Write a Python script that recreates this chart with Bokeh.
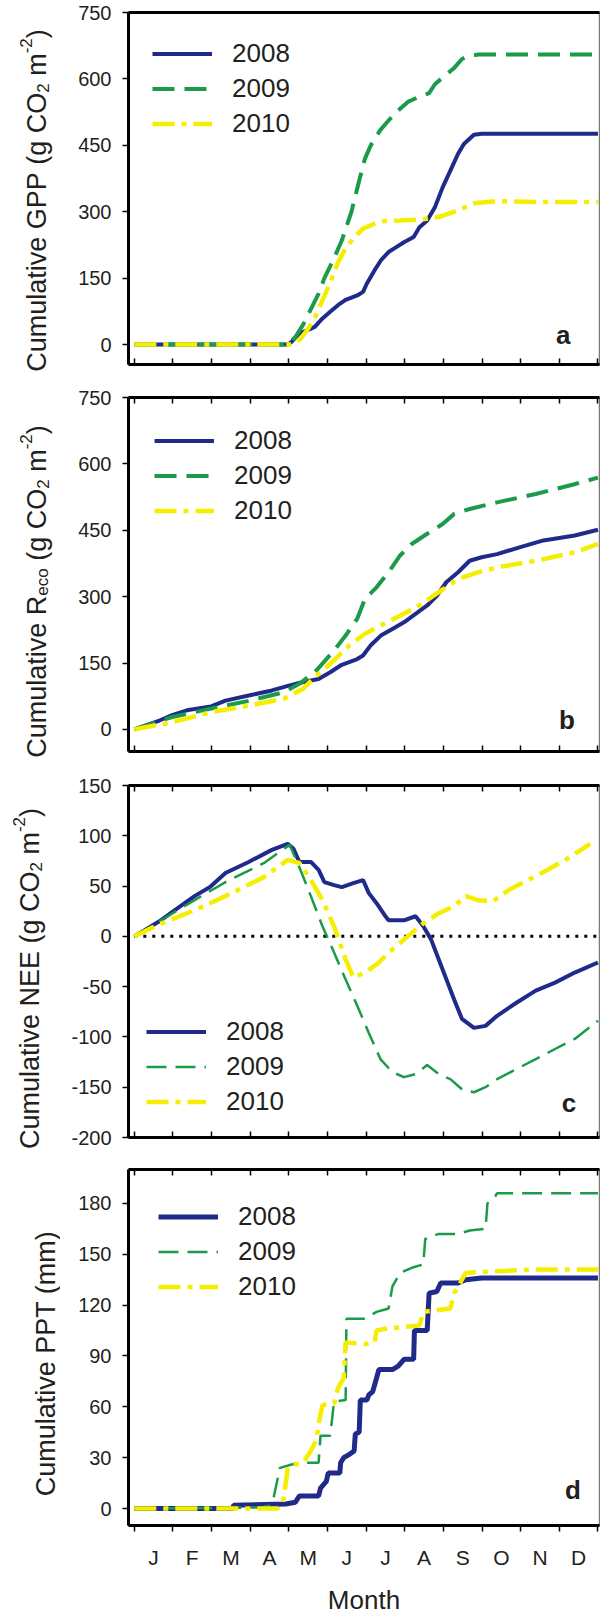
from bokeh.plotting import figure
from bokeh.models import Range1d, FixedTicker, LinearAxis, Legend, LegendItem, Label
from bokeh.layouts import column, row
from bokeh.embed import file_html
from bokeh.resources import INLINE
from bokeh.core.properties import value

# ---------------- data ----------------
month_labels = ["J", "F", "M", "A", "M", "J", "J", "A", "S", "O", "N", "D"]
month_edges = list(range(13))
month_mids = [i + 0.5 for i in range(12)]
year_labels = ["2008", "2009", "2010"]

gpp_ticks = [0, 150, 300, 450, 600, 750]
reco_ticks = [0, 150, 300, 450, 600, 750]
nee_ticks = [-200, -150, -100, -50, 0, 50, 100, 150]
ppt_ticks = [0, 30, 60, 90, 120, 150, 180]

gpp_2008_m = [0, 3.97, 4.07, 4.27, 4.47, 4.67, 4.87, 5.07, 5.27, 5.47, 5.77, 5.92, 6.02, 6.22, 6.38, 6.58, 6.78, 6.98, 7.23, 7.38, 7.58, 7.78, 7.98, 8.18, 8.38, 8.53, 8.79, 8.99, 12.0]
gpp_2008_v = [0, 0, 6, 25, 32, 40, 59, 74, 89, 101, 111, 119, 138, 168, 190, 209, 220, 231, 243, 265, 280, 310, 355, 393, 431, 453, 474, 476, 476]
gpp_2009_m = [0, 3.97, 4.17, 4.37, 4.57, 4.77, 4.92, 5.17, 5.37, 5.62, 5.82, 5.97, 6.12, 6.37, 6.57, 6.78, 7.08, 7.38, 7.63, 7.78, 7.98, 8.28, 8.48, 8.68, 8.9, 12.0]
gpp_2009_v = [0, 0, 17, 45, 80, 115, 150, 195, 235, 300, 370, 420, 450, 485, 505, 525, 548, 560, 568, 588, 603, 625, 645, 652, 655, 655]
gpp_2010_m = [0, 4.0, 4.07, 4.27, 4.47, 4.67, 4.87, 5.07, 5.27, 5.47, 5.72, 5.92, 6.22, 6.47, 6.88, 7.38, 7.88, 8.38, 8.79, 9.39, 10.39, 12.0]
gpp_2010_v = [0, 0, 2, 10, 32, 60, 100, 140, 185, 218, 245, 262, 273, 279, 280, 282, 288, 303, 319, 324, 322, 322]

reco_2008_m = [0, 0.65, 0.98, 1.36, 1.99, 2.36, 2.99, 3.56, 4.0, 4.37, 4.77, 5.07, 5.37, 5.77, 5.92, 6.12, 6.38, 6.68, 6.98, 7.28, 7.58, 7.83, 8.08, 8.38, 8.68, 8.99, 9.39, 9.99, 10.59, 11.4, 12.0]
reco_2008_v = [0, 20, 32, 43, 52, 65, 77, 88, 99, 107, 114, 129, 146, 159, 167, 190, 212, 227, 242, 261, 280, 302, 333, 355, 381, 389, 396, 412, 427, 438, 451]
reco_2009_m = [0, 0.98, 1.99, 2.99, 3.87, 4.27, 4.67, 5.17, 5.47, 5.77, 5.97, 6.27, 6.58, 6.88, 7.18, 7.58, 7.98, 8.28, 8.68, 9.39, 10.39, 11.39, 12.0]
reco_2009_v = [0, 28, 47, 65, 84, 103, 129, 178, 212, 250, 295, 321, 355, 393, 419, 442, 464, 487, 498, 513, 532, 554, 569]
reco_2010_m = [0, 0.98, 1.99, 2.99, 3.87, 4.37, 4.67, 5.07, 5.57, 5.97, 6.38, 6.88, 7.38, 7.88, 8.38, 8.89, 9.39, 10.39, 11.39, 12.0]
reco_2010_v = [0, 16, 39, 54, 69, 92, 118, 148, 190, 216, 235, 257, 280, 310, 340, 355, 366, 381, 400, 419]

nee_2008_m = [0, 0.65, 1.05, 1.56, 1.96, 2.36, 2.96, 3.56, 3.97, 4.12, 4.27, 4.57, 4.77, 4.92, 5.17, 5.37, 5.67, 5.92, 6.07, 6.27, 6.48, 6.58, 6.98, 7.28, 7.48, 7.68, 7.88, 8.08, 8.28, 8.48, 8.79, 9.09, 9.39, 9.89, 10.39, 10.89, 11.4, 12.0]
nee_2008_v = [0, 15, 26, 40, 49, 63, 74, 86, 92, 87, 74, 74, 66, 54, 51, 49, 53, 56, 43, 33, 21, 16, 16, 20, 10, -3, -23, -43, -63, -82, -91, -89, -79, -66, -54, -46, -36, -26]
nee_2009_m = [0, 0.65, 1.56, 2.36, 3.36, 4.02, 4.27, 4.57, 4.87, 5.17, 5.47, 5.77, 6.07, 6.37, 6.68, 6.98, 7.28, 7.58, 7.88, 8.18, 8.48, 8.79, 9.09, 9.39, 9.89, 10.39, 10.89, 11.4, 12.0]
nee_2009_v = [0, 15, 36, 54, 73, 91, 69, 40, 10, -16, -43, -69, -96, -122, -135, -140, -137, -128, -137, -142, -152, -155, -150, -142, -132, -122, -112, -102, -84]
nee_2010_m = [0, 0.65, 1.56, 2.36, 3.36, 3.97, 4.27, 4.57, 4.87, 5.17, 5.47, 5.67, 5.97, 6.27, 6.68, 7.08, 7.48, 7.88, 8.28, 8.58, 8.89, 9.29, 9.69, 10.19, 10.69, 11.2, 11.8]
nee_2010_v = [0, 12, 26, 40, 59, 76, 73, 56, 36, 10, -23, -41, -36, -28, -13, 0, 13, 23, 30, 40, 36, 35, 46, 56, 66, 77, 92]
nee_zero_m = [0, 12]
nee_zero_v = [0, 0]

ppt_2008_m = [0, 2.56, 2.57, 3.92, 4.17, 4.27, 4.77, 4.82, 4.97, 5.02, 5.32, 5.34, 5.42, 5.57, 5.69, 5.72, 5.82, 5.85, 6.02, 6.07, 6.17, 6.27, 6.33, 6.68, 6.83, 6.98, 7.23, 7.25, 7.58, 7.63, 7.83, 7.93, 8.38, 8.58, 8.99, 12.0]
ppt_2008_v = [0, 0, 2, 2.7, 3.7, 7.4, 7.4, 12, 16, 21, 21, 27, 30, 32, 34, 44, 45, 64, 64, 67, 69, 77, 82, 82, 84, 88, 88, 105, 105, 127, 128, 133, 133, 135, 136, 136]
ppt_2009_m = [0, 3.26, 3.51, 3.61, 3.77, 4.07, 4.27, 4.77, 4.82, 5.07, 5.17, 5.47, 5.49, 5.97, 6.27, 6.58, 6.68, 6.88, 7.18, 7.48, 7.53, 7.88, 8.38, 8.68, 9.09, 9.14, 9.29, 9.39, 12.0]
ppt_2009_v = [0, 0.6, 1.6, 7, 24, 26, 27, 27, 43, 43, 63, 64, 112, 112, 116, 118, 131, 139, 142, 144, 159, 162, 162, 164, 165, 180, 182, 186, 186]
ppt_2010_m = [0, 3.71, 3.87, 3.97, 4.17, 4.37, 4.57, 4.72, 4.77, 4.87, 5.17, 5.27, 5.42, 5.47, 5.97, 6.22, 6.27, 6.48, 7.38, 7.48, 8.18, 8.28, 8.48, 8.58, 9.39, 10.39, 12.0]
ppt_2010_v = [0, 0, 6, 24, 26, 27, 34, 41, 50, 61, 62, 71, 77, 98, 97, 98, 105, 106, 108, 116, 118, 127, 135, 139, 140, 141, 141]

# ---------------- style ----------------
FONT = "Liberation Sans"
TXT = "#231f20"
BLUE, GREEN, YELLOW = "#1f2a8a", "#1b9a4a", "#f6ee00"
X0, X1 = -0.15, 12.04
FW = 471
TW = 60            # width of the strip that holds the rotated y titles
LEFT = 128 - TW    # left border of each panel, beside that strip

CW = {' ': 278, '(': 333, ')': 333, '-': 333, '2': 556, 'C': 722, 'G': 778, 'P': 667,
      'O': 778, 'R': 722, 'N': 722, 'E': 667, 'T': 611, 'u': 556, 'm': 833, 'l': 222,
      'a': 556, 't': 278, 'i': 222, 'v': 500, 'e': 556, 'g': 556, 'c': 500, 'o': 556}


def tw(s, size):
    return sum(CW.get(ch, 556) for ch in s) / 1000.0 * size


def blank_axis(ticks, tin, tout):
    return LinearAxis(ticker=FixedTicker(ticks=ticks), axis_line_width=3, axis_line_color="black",
                      major_tick_in=tin, major_tick_out=tout, minor_tick_in=0, minor_tick_out=0,
                      major_tick_line_width=1.5, major_label_standoff=0,
                      major_label_overrides={e: "" for e in ticks}, major_label_text_font_size="1px")


def panel(y0, y1, fh, top, bottom, ticks, top_ticks, bottom_out=False):
    p = figure(frame_width=FW, frame_height=fh, x_range=Range1d(X0, X1), y_range=Range1d(y0, y1),
               x_axis_type=None, y_axis_type=None, output_backend="svg", toolbar_location=None,
               title=None, min_border_left=LEFT, min_border_right=1, min_border_top=top,
               min_border_bottom=bottom)
    p.outline_line_color = "#7a7a7a"
    p.outline_line_width = 1.5
    ya = LinearAxis(ticker=FixedTicker(ticks=ticks), axis_line_width=3, axis_line_color="black",
                    major_tick_out=6, major_tick_in=0, minor_tick_out=0, minor_tick_in=0,
                    major_tick_line_width=1.5, major_label_standoff=11,
                    major_label_overrides={t: str(t) for t in ticks if t < 0},
                    major_label_text_font=FONT, major_label_text_font_size="20px",
                    major_label_text_color=TXT)
    p.add_layout(ya, "left")
    p.add_layout(blank_axis(month_edges, 6 if top_ticks else 0, 0), "above")
    if bottom_out:
        p.add_layout(blank_axis(month_edges, 0, 6), "below")
    else:
        p.add_layout(blank_axis(month_edges, 6, 0), "below")
    return p


def title_strip(pieces, top, fh, bottom, base_px):
    h = top + fh + bottom
    t = figure(frame_width=TW, frame_height=h, x_range=Range1d(0, TW), y_range=Range1d(0, h),
               x_axis_type=None, y_axis_type=None, output_backend="svg", toolbar_location=None,
               title=None, min_border=0)
    t.outline_line_color = None
    main, small = 27, 17
    sizes = [main if k == "n" else small for _, k in pieces]
    total = sum(tw(s, z) for (s, k), z in zip(pieces, sizes))
    pos = bottom + fh / 2.0 - total / 2.0
    for (s, k), z in zip(pieces, sizes):
        shift = {"n": 0, "sub": 6, "sup": -11}[k]
        lead = len(s) - len(s.lstrip(" "))
        t.add_layout(Label(x=base_px - 8 + shift, y=pos + tw(" " * lead, z), text=s.strip(" "),
                           angle=90, angle_units="deg",
                           text_font=FONT, text_font_size="%dpx" % z, text_color=TXT,
                           text_align="left", text_baseline="alphabetic"))
        pos += tw(s, z)
    return t


def letter(p, x, y, t):
    p.add_layout(Label(x=x, y=y, text=t, text_font=FONT, text_font_size="26px",
                       text_font_style="bold", text_color=TXT,
                       text_align="center", text_baseline="middle"))


def legend(p, rs, loc, margin):
    lg = Legend(items=[LegendItem(label=y, renderers=[r]) for y, r in zip(year_labels, rs)],
                location=loc, margin=margin, padding=0, spacing=0, glyph_width=60,
                glyph_height=35, label_height=35, label_standoff=20,
                label_text_font=FONT, label_text_font_size="26px", label_text_color=TXT,
                border_line_alpha=0, background_fill_alpha=0)
    p.add_layout(lg)


def three(p, xs, ys, thin_green=False, wide_blue=4):
    r1 = p.line(xs[0], ys[0], line_color=BLUE, line_width=wide_blue)
    if thin_green:
        r2 = p.line(xs[1], ys[1], line_color=GREEN, line_width=2.5, line_dash="20 9")
    else:
        r2 = p.line(xs[1], ys[1], line_color=GREEN, line_width=4, line_dash="22 10")
    r3 = p.line(xs[2], ys[2], line_color=YELLOW, line_width=4.5, line_dash="22 7 5 7")
    return [r1, r2, r3]


CO2 = [(" (g CO", "n"), ("2", "sub"), (" m", "n"), ("-2", "sup"), (")", "n")]

# ---- panel a ----
pa = panel(-45, 750, 352, 12, 16, gpp_ticks, False)
ra = three(pa, [gpp_2008_m, gpp_2009_m, gpp_2010_m], [gpp_2008_v, gpp_2009_v, gpp_2010_v])
legend(pa, ra, "top_left", 24)
letter(pa, 11.1, 22, "a")
ta = title_strip([("Cumulative GPP", "n")] + CO2, 12, 352, 16, 44)

# ---- panel b ----
pb = panel(-50, 750, 354, 17, 17, reco_ticks, True)
rb = three(pb, [reco_2008_m, reco_2009_m, reco_2010_m], [reco_2008_v, reco_2009_v, reco_2010_v])
legend(pb, rb, "top_left", 26)
letter(pb, 11.2, 22, "b")
tb = title_strip([("Cumulative R", "n"), ("eco", "sub")] + CO2, 17, 354, 17, 44)

# ---- panel c ----
pc = panel(-200, 150, 352, 17, 16, nee_ticks, True)
pc.line(nee_zero_m, nee_zero_v, line_color="black", line_width=3, line_dash="3 6")
rc = three(pc, [nee_2008_m, nee_2009_m, nee_2010_m], [nee_2008_v, nee_2009_v, nee_2010_v], thin_green=True)
legend(pc, rc, "bottom_left", 18)
letter(pc, 11.25, -166, "c")
tc = title_strip([("Cumulative NEE", "n")] + CO2, 17, 352, 16, 37)

# ---- panel d ----
pd_ = panel(-10, 200, 356, 16, 12, ppt_ticks, True, bottom_out=True)
rd = three(pd_, [ppt_2008_m, ppt_2009_m, ppt_2010_m], [ppt_2008_v, ppt_2009_v, ppt_2010_v],
           thin_green=True, wide_blue=5)
legend(pd_, rd, "top_left", 30)
letter(pd_, 11.35, 11, "d")
td = title_strip([("Cumulative PPT (mm)", "n")], 16, 356, 12, 53)

# ---- month labels strip under panel d ----
MH = 78
pm = figure(frame_width=FW, frame_height=MH, x_range=Range1d(X0, X1), y_range=Range1d(0, MH),
            x_axis_type=None, y_axis_type=None, output_backend="svg", toolbar_location=None,
            title=None, min_border_left=128, min_border_right=1, min_border_top=0, min_border_bottom=0)
pm.outline_line_color = None
pm.text(x=month_mids, y=[MH - 20] * 12, text=month_labels, text_font=value(FONT),
        text_font_size="21px", text_color=TXT, text_align="center", text_baseline="middle")
pm.add_layout(Label(x=(X0 + X1) / 2, y=MH - 62, text="Month", text_font=FONT, text_font_size="26px",
                    text_color=TXT, text_align="center", text_baseline="middle"))

layout = column(row(ta, pa), row(tb, pb), row(tc, pc), row(td, pd_), pm)
open("out.html", "w").write(file_html(layout, INLINE))
